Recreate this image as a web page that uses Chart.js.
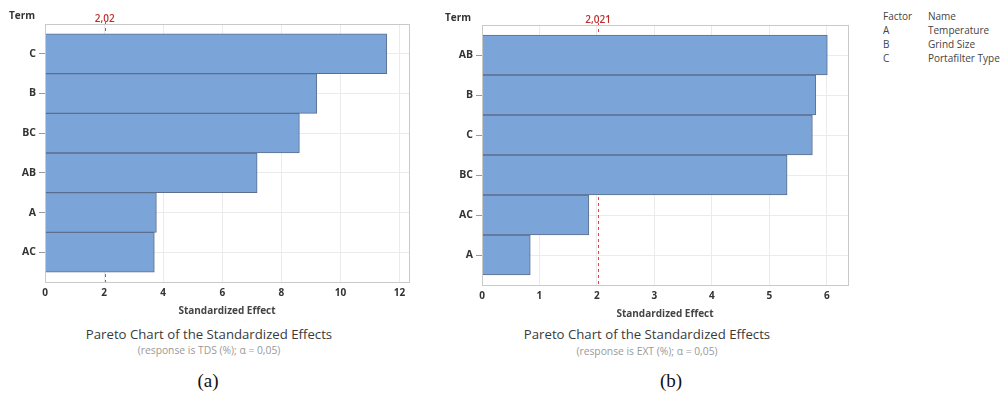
<!DOCTYPE html>
<html>
<head>
<meta charset="utf-8">
<script src="https://cdn.jsdelivr.net/npm/chart.js@4"></script>
<style>
  body { margin: 0; background: #fff; width: 1003px; height: 394px; overflow: hidden; position: relative; font-family: "Open Sans", sans-serif; }
  .abs { position: absolute; white-space: nowrap; }
  #wrapA { position: absolute; left: 0; top: 0; width: 414px; height: 320px; }
  #wrapB { position: absolute; left: 430px; top: 0; width: 422px; height: 320px; }
  .term { font-size: 10px; font-weight: bold; color: #333; }
  .ttl { font-size: 13.2px; color: #3a3a3a; transform: translateX(-50%); }
  .sub { font-size: 10.3px; color: #999; transform: translateX(-50%); }
  .lab { font-family: "Liberation Serif", serif; font-size: 19px; color: #111; transform: translateX(-50%); }
  .leg { font-size: 10px; color: #444; line-height: 14px; }
</style>
</head>
<body>
<div id="wrapA"><canvas id="chartA"></canvas></div>
<div id="wrapB"><canvas id="chartB"></canvas></div>

<div class="abs term" style="left:9px;top:8px;">Term</div>
<div class="abs term" style="left:445px;top:10px;">Term</div>

<div class="abs ttl" style="left:209px;top:325px;">Pareto Chart of the Standardized Effects</div>
<div class="abs sub" style="left:209px;top:343px;">(response is TDS (%); α = 0,05)</div>
<div class="abs lab" style="left:208px;top:370px;">(a)</div>

<div class="abs ttl" style="left:647px;top:325px;">Pareto Chart of the Standardized Effects</div>
<div class="abs sub" style="left:647px;top:344px;">(response is EXT (%); α = 0,05)</div>
<div class="abs lab" style="left:671px;top:370px;">(b)</div>

<div class="abs leg" style="left:883px;top:9px;">Factor<br>A<br>B<br>C</div>
<div class="abs leg" style="left:928px;top:9px;">Name<br>Temperature<br>Grind Size<br>Portafilter Type</div>

<script>
// (a) TDS
const termsA = ["C", "B", "BC", "AB", "A", "AC"];
const effectsA = [11.57, 9.2, 8.61, 7.18, 3.77, 3.7];
const refA = 2.02;
const refLabelA = "2,02";
const xMaxA = 12.32;
const xTicksA = [0, 2, 4, 6, 8, 10, 12];

// (b) EXT
const termsB = ["AB", "B", "C", "BC", "AC", "A"];
const effectsB = [6.01, 5.81, 5.75, 5.31, 1.86, 0.84];
const refB = 2.021;
const refLabelB = "2,021";
const xMaxB = 6.37;
const xTicksB = [0, 1, 2, 3, 4, 5, 6];

const refLine = {
  id: "refLine",
  beforeDatasetsDraw(chart, args, opts) {
    const { ctx, chartArea } = chart;
    const x = chart.scales.x.getPixelForValue(opts.value);
    ctx.save();
    ctx.strokeStyle = "rgb(220,70,70)";
    ctx.lineWidth = 1;
    ctx.setLineDash([3, 3]);
    ctx.beginPath();
    ctx.moveTo(Math.round(x) + 0.5, chartArea.top - 2);
    ctx.lineTo(Math.round(x) + 0.5, chartArea.bottom);
    ctx.stroke();
    ctx.restore();
  },
  afterDraw(chart, args, opts) {
    const { ctx, chartArea } = chart;
    const x = chart.scales.x.getPixelForValue(opts.value);
    ctx.save();
    // plot frame
    ctx.strokeStyle = "#c9c9c9";
    ctx.lineWidth = 1;
    ctx.strokeRect(Math.round(chartArea.left) + 0.5, Math.round(chartArea.top) + 0.5,
      Math.round(chartArea.width), Math.round(chartArea.height));
    ctx.fillStyle = "rgb(190,45,45)";
    ctx.font = "600 10px 'Open Sans', sans-serif";
    ctx.textAlign = "center";
    ctx.textBaseline = "bottom";
    ctx.fillText(opts.label, x, chartArea.top);
    ctx.restore();
  }
};

function makeChart(id, terms, effects, ref, refLabel, xMax, xTicks, leftW, axisH, padTop, padRight, padBottom) {
  new Chart(document.getElementById(id), {
    type: "bar",
    data: {
      datasets: [{
        data: effects.map((v, i) => ({ x: v, y: i })),
        backgroundColor: "rgb(123,165,216)",
        borderColor: "rgb(92,110,140)",
        borderWidth: 1,
        barPercentage: 1,
        categoryPercentage: 1
      }]
    },
    options: {
      indexAxis: "y",
      responsive: true,
      maintainAspectRatio: false,
      animation: false,
      layout: { padding: { top: padTop, right: padRight, left: 0, bottom: padBottom } },
      plugins: {
        legend: { display: false },
        tooltip: { enabled: false },
        refLine: { value: ref, label: refLabel }
      },
      scales: {
        x: {
          type: "linear",
          min: 0,
          max: xMax,
          afterBuildTicks: (s) => { s.ticks = xTicks.map(v => ({ value: v })); },
          afterFit: (s) => { s.height = axisH; },
          grid: { color: "#ebebeb", tickLength: 4, tickColor: "#fff", drawTicks: true },
          border: { display: false },
          ticks: { color: "#333", font: { size: 10, weight: "bold", family: "'Open Sans', sans-serif" }, padding: 1 },
          title: { display: true, text: "Standardized Effect", color: "#444",
                   font: { size: 10, weight: "bold", family: "'Open Sans', sans-serif" }, padding: { top: -1, bottom: 0 } }
        },
        y: {
          type: "linear",
          reverse: true,
          offset: false,
          min: -0.75,
          max: 5.75,
          afterBuildTicks: (s) => { s.ticks = terms.map((t, i) => ({ value: i })); },
          afterFit: (s) => { s.width = leftW; },
          grid: { color: "#ebebeb", tickLength: 6, tickColor: "#999", offset: false },
          border: { display: false },
          ticks: {
            color: "#333",
            font: { size: 10.5, weight: "bold", family: "'Open Sans', sans-serif" },
            padding: 3,
            callback: (v) => terms[v]
          }
        }
      }
    },
    plugins: [refLine]
  });
}

makeChart("chartA", termsA, effectsA, refA, refLabelA, xMaxA, xTicksA, 45, 35, 24, 5, 3);
makeChart("chartB", termsB, effectsB, refB, refLabelB, xMaxB, xTicksB, 52, 35, 25, 4, 0);
</script>
</body>
</html>
